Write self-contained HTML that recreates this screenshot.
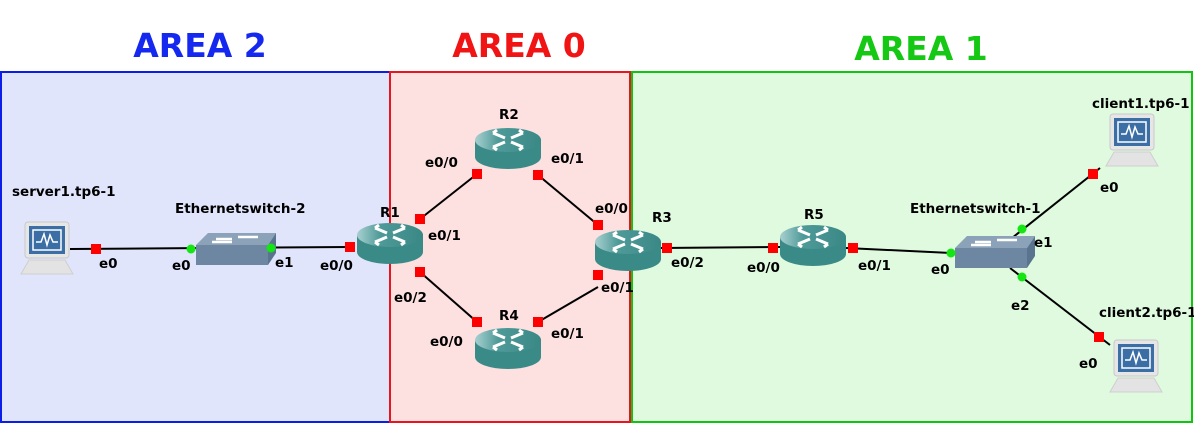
<!DOCTYPE html>
<html><head><meta charset="utf-8"><style>
body{margin:0;background:#fff;}
svg text{font-family:"DejaVu Sans","Liberation Sans",sans-serif;font-weight:bold;}
</style></head><body>
<svg width="1194" height="423" viewBox="0 0 1194 423" xmlns="http://www.w3.org/2000/svg">
<defs>
<linearGradient id="rt" x1="0" y1="0" x2="1" y2="0"><stop offset="0" stop-color="#a8d0d0"/><stop offset="0.35" stop-color="#4e9a98"/><stop offset="1" stop-color="#3a8886"/></linearGradient>
<g id="router">
<path d="M0,13 L0,30 A33,12 0 0 0 66,30 L66,13 Z" fill="#3a8a87"/>
<ellipse cx="33" cy="13" rx="33" ry="12" fill="url(#rt)"/>
<g stroke="#fff" stroke-width="3" fill="none">
<path d="M18,6 L30,11 M18,6 L22,3"/><path d="M48,6 L36,11 M48,6 L44,3"/>
<path d="M18,20 L30,15 M18,20 L22,23"/><path d="M48,20 L36,15 M48,20 L44,23"/>
</g>
</g>
<g id="switch">
<path d="M0,12 L12,0 L80,0 L72,12 Z" fill="#8ba2b8"/>
<rect x="0" y="12" width="72" height="20" fill="#6d87a2"/>
<path d="M72,12 L80,0 L80,20 L72,32 Z" fill="#5a7490"/>
<g stroke="#fff" stroke-width="2.5"><path d="M16,9 L36,9 M42,4 L62,4 M20,6 L36,6"/></g>
</g>
<g id="pc">
<rect x="4" y="0" width="44" height="36" rx="3" fill="#e6e6e6" stroke="#c8c8c8"/>
<rect x="8" y="4" width="36" height="28" fill="#3a6ea5"/>
<rect x="12" y="8" width="28" height="20" fill="none" stroke="#fff" stroke-width="1.5"/>
<path d="M15,20 L20,20 L23,12 L26,23 L29,13 L32,20 L37,20" stroke="#fff" stroke-width="1.5" fill="none"/>
<path d="M8,38 L44,38 L52,52 L0,52 Z" fill="#e3e3e3" stroke="#cfcfcf"/>
</g>
</defs>
<rect x="1" y="72" width="389" height="350" fill="#e1e5fc" stroke="#0a1ee6" stroke-width="2"/>
<rect x="390" y="72" width="240" height="350" fill="#fde0e0" stroke="#e8141e" stroke-width="2"/>
<rect x="632" y="72" width="560" height="350" fill="#dffadf" stroke="#12c412" stroke-width="2"/>
<text x="200" y="57" font-size="33" fill="#1428f0" text-anchor="middle">AREA 2</text>
<text x="519" y="57" font-size="33" fill="#f01414" text-anchor="middle">AREA 0</text>
<text x="921" y="60" font-size="33" fill="#14c814" text-anchor="middle">AREA 1</text>
<g stroke="#000" stroke-width="2">
<line x1="70" y1="249" x2="350" y2="247"/>
<line x1="420" y1="219" x2="477" y2="174"/>
<line x1="538" y1="175" x2="598" y2="225"/>
<line x1="420" y1="272" x2="477" y2="322"/>
<line x1="538" y1="322" x2="598" y2="287"/>
<line x1="660" y1="248" x2="780" y2="247"/>
<line x1="846" y1="248" x2="951" y2="253"/>
<line x1="1012" y1="238" x2="1100" y2="168"/>
<line x1="1010" y1="268" x2="1110" y2="345"/>
</g>
<use href="#pc" x="21" y="222"/>
<use href="#switch" x="196" y="233"/>
<use href="#router" x="357" y="222"/>
<use href="#router" x="475" y="127"/>
<use href="#router" x="475" y="327"/>
<use href="#router" x="595" y="229"/>
<use href="#router" x="780" y="224"/>
<use href="#switch" x="955" y="236"/>
<use href="#pc" x="1106" y="114"/>
<use href="#pc" x="1110" y="340"/>
<g fill="#f00">
<rect x="91" y="244" width="10" height="10"/>
<rect x="345" y="242" width="10" height="10"/>
<rect x="415" y="214" width="10" height="10"/>
<rect x="415" y="267" width="10" height="10"/>
<rect x="472" y="169" width="10" height="10"/>
<rect x="533" y="170" width="10" height="10"/>
<rect x="472" y="317" width="10" height="10"/>
<rect x="533" y="317" width="10" height="10"/>
<rect x="593" y="220" width="10" height="10"/>
<rect x="593" y="270" width="10" height="10"/>
<rect x="662" y="243" width="10" height="10"/>
<rect x="768" y="243" width="10" height="10"/>
<rect x="848" y="243" width="10" height="10"/>
<rect x="1088" y="169" width="10" height="10"/>
<rect x="1094" y="332" width="10" height="10"/>
</g>
<g fill="#14e614">
<circle cx="191" cy="249" r="4.5"/><circle cx="271" cy="248" r="4.5"/>
<circle cx="951" cy="253" r="4.5"/><circle cx="1022" cy="229" r="4.5"/><circle cx="1022" cy="277" r="4.5"/>
</g>
<g font-size="13.5" fill="#000">
<text x="12" y="196">server1.tp6-1</text>
<text x="175" y="213">Ethernetswitch-2</text>
<text x="380" y="217">R1</text>
<text x="499" y="119">R2</text>
<text x="499" y="320">R4</text>
<text x="652" y="222">R3</text>
<text x="804" y="219">R5</text>
<text x="910" y="213">Ethernetswitch-1</text>
<text x="1092" y="108">client1.tp6-1</text>
<text x="1099" y="317">client2.tp6-1</text>
<text x="99" y="268">e0</text>
<text x="172" y="270">e0</text>
<text x="275" y="267">e1</text>
<text x="320" y="270">e0/0</text>
<text x="428" y="240">e0/1</text>
<text x="394" y="302">e0/2</text>
<text x="425" y="167">e0/0</text>
<text x="551" y="163">e0/1</text>
<text x="430" y="346">e0/0</text>
<text x="551" y="338">e0/1</text>
<text x="595" y="213">e0/0</text>
<text x="601" y="292">e0/1</text>
<text x="671" y="267">e0/2</text>
<text x="747" y="272">e0/0</text>
<text x="858" y="270">e0/1</text>
<text x="931" y="274">e0</text>
<text x="1034" y="247">e1</text>
<text x="1011" y="310">e2</text>
<text x="1100" y="192">e0</text>
<text x="1079" y="368">e0</text>
</g>
</svg>
</body></html>
